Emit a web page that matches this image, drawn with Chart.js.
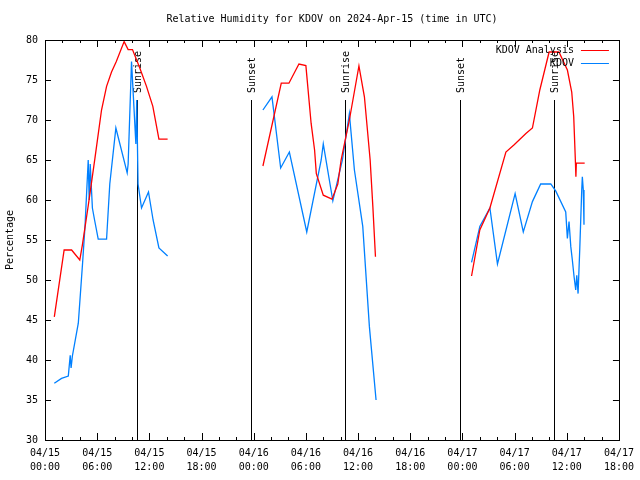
<!DOCTYPE html>
<html>
<head>
<meta charset="utf-8">
<script src="https://cdn.jsdelivr.net/npm/chart.js@4.4.1/dist/chart.umd.min.js"></script>
<style>
  html, body { margin: 0; padding: 0; background: #fff; }
</style>
</head>
<body>
<canvas id="rhChart" width="640" height="480"></canvas>
<script>
// hours since 04/15 00:00 UTC, null value = gap between days
const analysisHours = [1.07, 2.2, 3.06, 4.0, 4.3, 5.0, 5.74, 6.5, 7.08, 7.65, 8.2, 9.1, 9.56, 10.06, 10.9, 11.67, 12.4, 13.1, 14.1,
  20,
  25.06, 27.17, 28.05, 29.2, 30.0, 30.6, 31.0, 31.2, 32.0, 33.0, 33.67, 34.05, 35.0, 36.1, 36.73, 37.39, 37.7, 38.0,
  44,
  49.05, 50.0, 51.16, 53.0, 53.95, 55.3, 56.05, 56.9, 57.97, 59.1, 60.07, 60.57, 60.8, 61.0, 61.05, 61.1, 62.06];
const analysisValues = [45.4, 53.75, 53.75, 52.5, 54.4, 59.5, 65.2, 71.25, 74.2, 76, 77.3, 79.8, 78.8, 78.8, 76.5, 74.2, 71.7, 67.6, 67.6,
  null,
  64.25, 74.6, 74.6, 77, 76.8, 69.6, 66.25, 63.3, 60.6, 60.1, 62, 65, 70, 76.75, 72.9, 65, 59.2, 52.9,
  null,
  50.5, 56.25, 59, 66, 66.9, 68.3, 69, 73.75, 78.5, 78.5, 76.25, 73.5, 70.4, 64.6, 62.9, 64.6, 64.6];

const obsHours = [1.07, 1.9, 2.68, 2.9, 3.0, 3.15, 3.83, 4.32, 4.6, 4.97, 5.08, 5.2, 5.45, 5.7, 6.12, 7.08, 7.45, 8.15, 9.45, 9.56, 9.95, 10.45, 10.55, 10.7, 11.1, 11.9, 12.43, 13.1, 14.1,
  20,
  25.06, 26.1, 27.1, 28.1, 30.1, 31.76, 32.0, 33.1, 34.2, 35.0, 35.58, 36.54, 37.3, 38.07,
  44,
  49.05, 49.9, 50.0, 51.16, 52.03, 54.06, 55.0, 56.05, 57.0, 58.16, 58.74, 59.88, 60.07, 60.26, 60.46, 60.64, 60.84, 61.03, 61.15, 61.3, 61.49, 61.72, 61.79, 61.9, 61.98];
const obsValues = [37.1, 37.7, 38.0, 40.6, 39.0, 40.5, 44.6, 52.1, 56.7, 65, 60, 64.5, 59, 57.5, 55.1, 55.1, 62, 69, 63.4, 64.5, 77.3, 67, 72.5, 62, 59, 61, 57.5, 54, 53,
  null,
  71.25, 72.9, 64, 66, 56, 65, 67, 59.9, 65, 70.8, 63.75, 56.7, 44.2, 35,
  null,
  52.2, 56.2, 56.7, 59, 52, 60.8, 56, 59.8, 62, 62, 61.1, 58.5, 55.2, 57.3, 54.2, 52.5, 50.4, 48.75, 50.6, 48.3, 53.75, 61.25, 62.9, 61.25, 56.9];

const sunLabels = ['Sunrise', 'Sunset', 'Sunrise', 'Sunset', 'Sunrise'];
const sunHours = [10.56, 23.65, 34.55, 47.75, 58.54];
const sunLineTop = 72.5;

const xTickLabels = [
  ['04/15', '00:00'], ['04/15', '06:00'], ['04/15', '12:00'], ['04/15', '18:00'],
  ['04/16', '00:00'], ['04/16', '06:00'], ['04/16', '12:00'], ['04/16', '18:00'],
  ['04/17', '00:00'], ['04/17', '06:00'], ['04/17', '12:00'], ['04/17', '18:00']
];

const FONT = '"DejaVu Sans Mono", "Liberation Mono", monospace';
const titleText = 'Relative Humidity for KDOV on 2024-Apr-15 (time in UTC)';

function toPoints(hours, values) {
  return hours.map((h, i) => ({ x: h, y: values[i] }));
}

// gnuplot style frame with inward ticks on all sides
const framePlugin = {
  id: 'frame',
  afterDatasetsDraw(chart) {
    const ctx = chart.ctx;
    const a = chart.chartArea;
    const xs = chart.scales.x;
    const ys = chart.scales.y;
    ctx.save();
    ctx.strokeStyle = '#000';
    ctx.lineWidth = 1;
    ctx.beginPath();
    for (let v = 30; v <= 80; v += 5) {
      const y = Math.round(ys.getPixelForValue(v)) + 0.5;
      ctx.moveTo(a.left, y); ctx.lineTo(a.left + 6, y);
      ctx.moveTo(a.right, y); ctx.lineTo(a.right - 6, y);
    }
    for (let h = 0; h <= 66; h += 2) {
      const x = Math.round(xs.getPixelForValue(h)) + 0.5;
      const len = h % 6 === 0 ? 7 : 3;
      ctx.moveTo(x, a.bottom); ctx.lineTo(x, a.bottom - len);
      ctx.moveTo(x, a.top); ctx.lineTo(x, a.top + len);
    }
    ctx.stroke();
    ctx.strokeRect(Math.round(a.left) + 0.5, Math.round(a.top) + 0.5,
      Math.round(a.right - a.left), Math.round(a.bottom - a.top));

    // title centred over the plot
    ctx.fillStyle = '#000';
    ctx.font = '10px ' + FONT;
    ctx.textAlign = 'center';
    ctx.textBaseline = 'middle';
    ctx.fillText(titleText, (a.left + a.right) / 2, 19);

    // key
    ctx.textAlign = 'right';
    chart.data.datasets.forEach((ds, i) => {
      const y = a.top + 10 + i * 13;
      ctx.fillStyle = '#000';
      ctx.fillText(ds.label, a.right - 45, y);
      ctx.strokeStyle = ds.borderColor;
      ctx.beginPath();
      ctx.moveTo(a.right - 38, Math.round(y) + 0.5);
      ctx.lineTo(a.right - 10, Math.round(y) + 0.5);
      ctx.stroke();
    });
    ctx.restore();
  }
};

// sunrise / sunset markers
const sunPlugin = {
  id: 'sun',
  beforeDatasetsDraw(chart) {
    const ctx = chart.ctx;
    const xs = chart.scales.x;
    const ys = chart.scales.y;
    const top = ys.getPixelForValue(sunLineTop);
    const bottom = ys.getPixelForValue(30);
    ctx.save();
    ctx.strokeStyle = '#000';
    ctx.lineWidth = 1;
    ctx.fillStyle = '#000';
    ctx.font = '10px ' + FONT;
    sunHours.forEach((h, i) => {
      const x = Math.round(xs.getPixelForValue(h)) + 0.5;
      ctx.beginPath();
      ctx.moveTo(x, top);
      ctx.lineTo(x, bottom);
      ctx.stroke();
      ctx.save();
      ctx.translate(x + 1, top - 7);
      ctx.rotate(-Math.PI / 2);
      ctx.textAlign = 'left';
      ctx.textBaseline = 'middle';
      ctx.fillText(sunLabels[i], 0, 0);
      ctx.restore();
    });
    ctx.restore();
  }
};

new Chart(document.getElementById('rhChart'), {
  type: 'line',
  data: {
    datasets: [
      {
        label: 'KDOV Analysis',
        data: toPoints(analysisHours, analysisValues),
        borderColor: '#ff0000',
        borderWidth: 1.3,
        pointRadius: 0,
        tension: 0,
        spanGaps: false
      },
      {
        label: 'KDOV',
        data: toPoints(obsHours, obsValues),
        borderColor: '#0080ff',
        borderWidth: 1.3,
        pointRadius: 0,
        tension: 0,
        spanGaps: false
      }
    ]
  },
  options: {
    responsive: false,
    animation: false,
    devicePixelRatio: 1,
    layout: {
      padding: { left: 0, right: 20, top: 40, bottom: 0 }
    },
    plugins: {
      legend: { display: false },
      title: { display: false },
      tooltip: { enabled: false }
    },
    scales: {
      x: {
        type: 'linear',
        min: 0,
        max: 66,
        grid: { display: false, drawTicks: false },
        border: { display: false },
        ticks: {
          stepSize: 6,
          autoSkip: false,
          maxRotation: 0,
          padding: 6,
          color: '#000',
          font: { family: FONT, size: 10, lineHeight: 1.4 },
          callback: function(value) {
            return xTickLabels[Math.round(value / 6)];
          }
        },
        afterFit: function(scale) { scale.height = 40; }
      },
      y: {
        min: 30,
        max: 80,
        grid: { display: false, drawTicks: false },
        border: { display: false },
        ticks: {
          stepSize: 5,
          padding: 7,
          color: '#000',
          font: { family: FONT, size: 10 }
        },
        title: {
          display: true,
          text: 'Percentage',
          color: '#000',
          padding: { top: 4, bottom: 0 },
          font: { family: FONT, size: 10 }
        },
        afterFit: function(scale) { scale.width = 45; }
      }
    }
  },
  plugins: [sunPlugin, framePlugin]
});
</script>
</body>
</html>
